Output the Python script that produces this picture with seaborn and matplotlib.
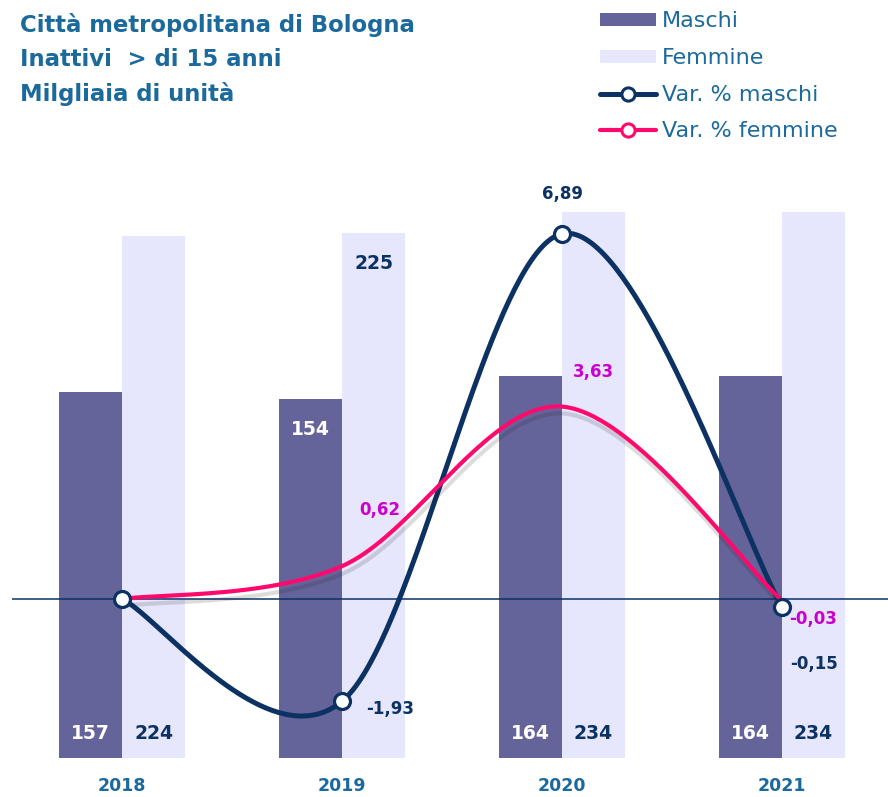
import numpy as np
import pandas as pd
import matplotlib
matplotlib.use("Agg")
import matplotlib.pyplot as plt
import matplotlib.patheffects as pe
from matplotlib.patches import Patch
from matplotlib.lines import Line2D
import seaborn as sns

# data
anni = ["2018", "2019", "2020", "2021"]
maschi = [157, 154, 164, 164]
femmine = [224, 225, 234, 234]
var_maschi = [0.0, -1.93, 6.89, -0.15]
var_femmine = [0.0, 0.62, 3.63, -0.03]
var_maschi_lbl = ["", "-1,93", "6,89", "-0,15"]
var_femmine_lbl = ["", "0,62", "3,63", "-0,03"]

c_maschi = "#65649a"
c_femmine = "#e6e6fc"
c_navy = "#0c3264"
c_pink = "#ff0a6c"
c_magenta = "#cc00cc"
c_teal = "#1c6a9c"

sns.set_theme(style="white")
plt.rcParams["font.family"] = ["DejaVu Sans"]


def smooth(xs, ys, n=80):
    # excel-like smoothed line: bezier segments through the points
    pts = np.column_stack([xs, ys]).astype(float)
    out = []
    for i in range(len(pts) - 1):
        p0 = pts[max(i - 1, 0)]
        p1 = pts[i]
        p2 = pts[i + 1]
        p3 = pts[min(i + 2, len(pts) - 1)]
        c1 = p1 + (p2 - p0) / 6
        c2 = p2 - (p3 - p1) / 6
        t = np.linspace(0, 1, n)[:, None]
        seg = (1 - t) ** 3 * p1 + 3 * (1 - t) ** 2 * t * c1 + 3 * (1 - t) * t ** 2 * c2 + t ** 3 * p2
        out.append(seg)
    return np.vstack(out)


df = pd.DataFrame({
    "anno": anni * 2,
    "sesso": ["Maschi"] * 4 + ["Femmine"] * 4,
    "valore": maschi + femmine,
})

fig = plt.figure(figsize=(8.88, 7.97), dpi=100)
ax = fig.add_axes([12 / 888, 39 / 797, 880 / 888, 583 / 797])

sns.barplot(data=df, x="anno", y="valore", hue="sesso", palette=[c_maschi, c_femmine],
            width=0.573, saturation=1, gap=0, legend=False, ax=ax, linewidth=0)
ax.set_ylim(0, 250)
ax.set_xlim(-0.5, 3.5)
ax.set_yticks([])
ax.set_xlabel("")
ax.set_ylabel("")
for s in ax.spines.values():
    s.set_visible(False)
ax.tick_params(axis="x", length=0, pad=14)
for lab in ax.get_xticklabels():
    lab.set_color(c_teal)
    lab.set_fontweight("bold")
    lab.set_fontsize(12.5)

# bar labels
bw = 0.573 / 2
for i in range(len(anni)):
    if anni[i] == "2019":
        ym, yf = maschi[i] - 13, femmine[i] - 13
    else:
        ym, yf = 10.5, 10.5
    ax.text(i - bw / 2, ym, str(maschi[i]), ha="center", va="center", color="white",
            fontsize=13.5, fontweight="bold")
    ax.text(i + bw / 2, yf, str(femmine[i]), ha="center", va="center", color=c_navy,
            fontsize=13.5, fontweight="bold")

ax2 = ax.twinx()
ax2.set_ylim(-3, 8)
ax2.set_yticks([])
for s in ax2.spines.values():
    s.set_visible(False)
ax2.axhline(0, color=c_navy, lw=1.1, zorder=1)

xs = np.arange(len(anni))
sm = smooth(xs, var_maschi)
sf = smooth(xs, var_femmine)
ax2.plot(sm[:, 0], sm[:, 1], color=c_navy, lw=3.6, solid_capstyle="round", zorder=3)
ax2.plot(sf[:, 0], sf[:, 1], color=c_pink, lw=3.0, solid_capstyle="round", zorder=4,
         path_effects=[pe.SimpleLineShadow(offset=(1.5, -5), shadow_color="k", alpha=0.15),
                       pe.Normal()])
ax2.plot(xs, var_maschi, "o", ms=11.5, mfc="white", mec=c_navy, mew=2.3, zorder=5)

off_m = [(0, 0), (48, -8), (0, 40), (32, -57)]
off_f = [(0, 0), (38, 56), (31, 35), (31, -18)]
for i in range(len(anni)):
    if var_maschi_lbl[i]:
        ax2.annotate(var_maschi_lbl[i], (i, var_maschi[i]), xytext=off_m[i], textcoords="offset pixels",
                     ha="center", va="center", color=c_navy, fontsize=12, fontweight="bold", zorder=6)
    if var_femmine_lbl[i]:
        ax2.annotate(var_femmine_lbl[i], (i, var_femmine[i]), xytext=off_f[i], textcoords="offset pixels",
                     ha="center", va="center", color=c_magenta, fontsize=12, fontweight="bold", zorder=6)

# title
fig.text(20 / 888, 1 - 13 / 797, "Città metropolitana di Bologna\nInattivi  > di 15 anni\nMilgliaia di unità",
         ha="left", va="top", color=c_teal, fontsize=16.4, fontweight="bold", linespacing=1.6)

handles = [
    Patch(facecolor=c_maschi, edgecolor="none"),
    Patch(facecolor=c_femmine, edgecolor="none"),
    Line2D([], [], color=c_navy, lw=3.6, marker="o", ms=9.5, mfc="white", mec=c_navy, mew=2.2),
    Line2D([], [], color=c_pink, lw=3.0, marker="o", ms=9.5, mfc="white", mec=c_pink, mew=2.2),
]
fig.legend(handles, ["Maschi", "Femmine", "Var. % maschi", "Var. % femmine"],
           loc="upper left", bbox_to_anchor=(596 / 888, 1 - 7 / 797), frameon=False,
           fontsize=16, labelcolor=c_teal, handlelength=2.5, handleheight=0.55,
           handletextpad=0.25, labelspacing=0.75, borderaxespad=0, borderpad=0.2)

fig.savefig("out.png", dpi=100)
